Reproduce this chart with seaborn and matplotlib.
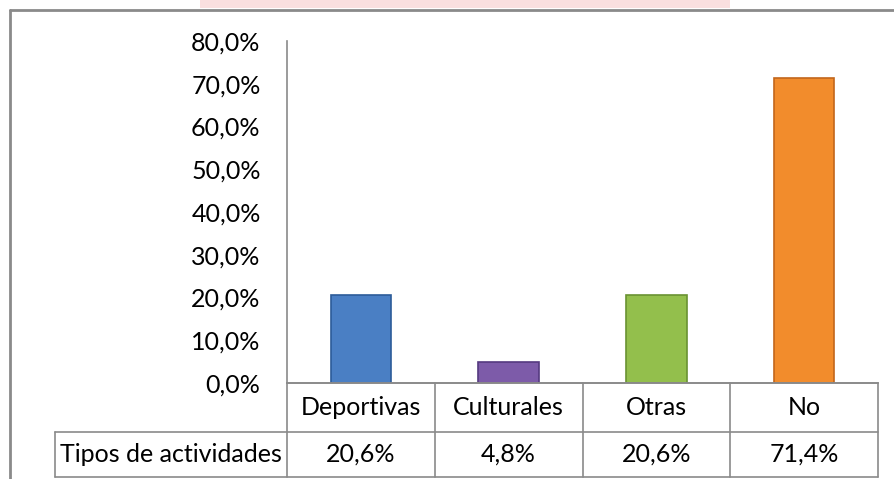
import matplotlib
matplotlib.use("Agg")
import matplotlib.pyplot as plt
import seaborn as sns
import pandas as pd
from matplotlib.lines import Line2D
from matplotlib.patches import Rectangle
from matplotlib.ticker import FuncFormatter

categories = ["Deportivas", "Culturales", "Otras", "No"]
values = [20.6, 4.8, 20.6, 71.4]
row_label = "Tipos de actividades"
y_ticks = [0, 10, 20, 30, 40, 50, 60, 70, 80]

bar_colors = ["#4a7fc4", "#7d5ba9", "#93bf4c", "#f28c2c"]
edge_colors = ["#2c5c99", "#553a80", "#6a9232", "#c2661b"]
grid_gray = "#8a8a8a"
fs = 18

sns.set_theme(style="white")
plt.rcParams["font.family"] = ["Lato", "DejaVu Sans"]

W, H = 894, 479
fig = plt.figure(figsize=(W / 100, H / 100), dpi=100)

# plot area in pixels
x0, x1 = 287, 878
y_top, y_zero = 41, 383
ax = fig.add_axes([x0 / W, (H - y_zero) / H, (x1 - x0) / W, (y_zero - y_top) / H])

df = pd.DataFrame({"cat": categories, "val": values})
sns.barplot(data=df, x="cat", y="val", hue="cat", palette=bar_colors,
            legend=False, width=0.41, ax=ax, saturation=1)
for p, ec in zip(ax.patches, edge_colors):
    p.set_edgecolor(ec)
    p.set_linewidth(1.2)

ax.set_xlim(-0.5, len(categories) - 0.5)
ax.set_ylim(0, 80)
ax.set_yticks(y_ticks)
ax.yaxis.set_major_formatter(FuncFormatter(lambda v, _: f"{v:.1f}%".replace(".", ",")))
ax.tick_params(axis="y", length=0, pad=19, labelsize=fs, labelcolor="black")
ax.set_xticks([])
ax.set_xlabel("")
ax.set_ylabel("")
for s in ["top", "right"]:
    ax.spines[s].set_visible(False)
for s in ["left", "bottom"]:
    ax.spines[s].set_color(grid_gray)
    ax.spines[s].set_linewidth(1.2)

# data table under the axis
px = (x1 - x0) / len(categories)
row1 = -(432 - y_zero) / (y_zero - y_top)
row2 = -(477 - y_zero) / (y_zero - y_top)
left_x = -0.5 - (x0 - 55) / px
tr = ax.get_xaxis_transform()
kw = dict(color=grid_gray, lw=1.2, transform=tr, clip_on=False)
ax.plot([-0.5, len(categories) - 0.5], [0, 0], **kw)
ax.plot([left_x, len(categories) - 0.5], [row1, row1], **kw)
ax.plot([left_x, len(categories) - 0.5], [row2, row2], **kw)
ax.plot([left_x, left_x], [row1, row2], **kw)
for i in range(len(categories) + 1):
    ax.plot([i - 0.5, i - 0.5], [0, row2], **kw)

for i, (c, v) in enumerate(zip(categories, values)):
    ax.text(i, row1 / 2, c, transform=tr, ha="center", va="center", fontsize=fs, color="black")
    ax.text(i, (row1 + row2) / 2, f"{v:.1f}%".replace(".", ","), transform=tr,
            ha="center", va="center", fontsize=fs, color="black")
ax.text((left_x - 0.5) / 2, (row1 + row2) / 2, row_label, transform=tr,
        ha="center", va="center", fontsize=fs, color="black")

# outer chart frame
fig.add_artist(Line2D([10 / W, 1], [1 - 10 / H, 1 - 10 / H], color=grid_gray, lw=2))
fig.add_artist(Line2D([10 / W, 10 / W], [0, 1 - 10 / H], color=grid_gray, lw=2))
# faint watermark strip at the top edge
fig.add_artist(Rectangle((200 / W, 1 - 8 / H), 530 / W, 8 / H, color="#f5b8b8", alpha=0.45, lw=0))

fig.savefig("out.png", dpi=100)
